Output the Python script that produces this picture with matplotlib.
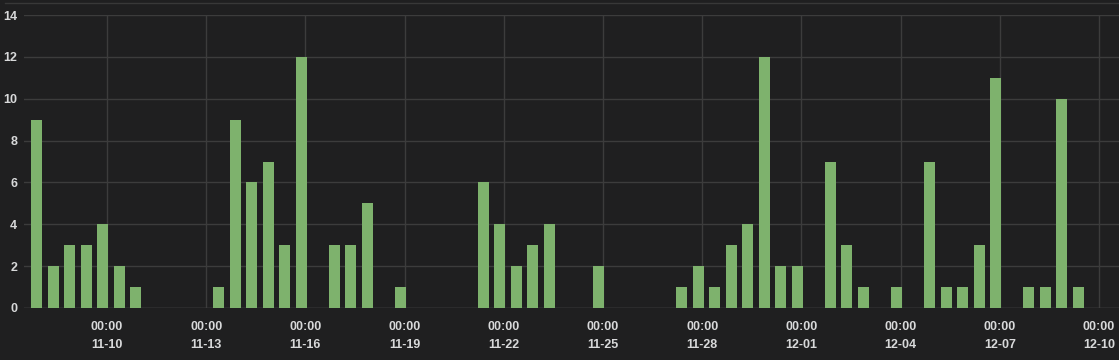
import matplotlib
matplotlib.use("Agg")
import matplotlib.pyplot as plt
import matplotlib.dates as mdates
from matplotlib.lines import Line2D
import datetime as dt

# Data: counts per 12-hour bucket starting 2023-11-07 21:00
start_time = dt.datetime(2023, 11, 7, 21, 0)
values = [9, 2, 3, 3, 4, 2, 1, 0, 0, 0, 0, 1, 9, 6, 7, 3,
          12, 0, 3, 3, 5, 0, 1, 0, 0, 0, 0, 6, 4, 2, 3, 4,
          0, 0, 2, 0, 0, 0, 0, 1, 2, 1, 3, 4, 12, 2, 2, 0,
          7, 3, 1, 0, 1, 0, 7, 1, 1, 3, 11, 0, 1, 1, 10, 1]
times = [start_time + dt.timedelta(hours=12 * i) for i in range(len(values))]
tick_times = [dt.datetime(2023, 11, 10) + dt.timedelta(days=3 * k) for k in range(11)]
y_ticks = [0, 2, 4, 6, 8, 10, 12, 14]

bg = "#1f1f20"
bar_color = "#7eb26d"
grid_color = "#3c3c3c"
text_color = "#d8d9da"

W, H = 1119, 360
fig = plt.figure(figsize=(W / 100, H / 100), dpi=100, facecolor=bg)
ax = fig.add_axes([24 / W, 52 / H, (W - 24) / W, (308 - 15) / H])
ax.set_facecolor(bg)

xnum = mdates.date2num(times)
ax.bar(xnum, values, width=8 / 24, color=bar_color, align="center", zorder=3)

x0 = mdates.date2num(dt.datetime(2023, 11, 10))
ax.set_xlim(x0 - 83 / 33.07, x0 + (W - 107) / 33.07)
ax.set_ylim(0, 14)

ax.set_xticks(mdates.date2num(tick_times))
ax.set_xticklabels([t.strftime("%H:%M") + "\n" + t.strftime("%m-%d") for t in tick_times],
                   linespacing=1.75)
ax.set_yticks(y_ticks)
ax.set_yticklabels([str(v) for v in y_ticks])

for lab in ax.get_xticklabels() + ax.get_yticklabels():
    lab.set_fontfamily(["Liberation Sans", "DejaVu Sans"])
    lab.set_fontsize(9)
    lab.set_fontweight("bold")
    lab.set_color(text_color)

ax.tick_params(axis="both", length=0)
ax.tick_params(axis="x", pad=9)
ax.tick_params(axis="y", pad=5)
ax.grid(True, color=grid_color, linewidth=1, zorder=0)
for s in ax.spines.values():
    s.set_visible(False)
ax.axhline(0, color="#4a4a4a", linewidth=1, zorder=2)

fig.add_artist(Line2D([5 / W, 1], [1 - 3 / H, 1 - 3 / H], color="#383838", linewidth=1))

fig.savefig("out.png", dpi=100, facecolor=bg)
